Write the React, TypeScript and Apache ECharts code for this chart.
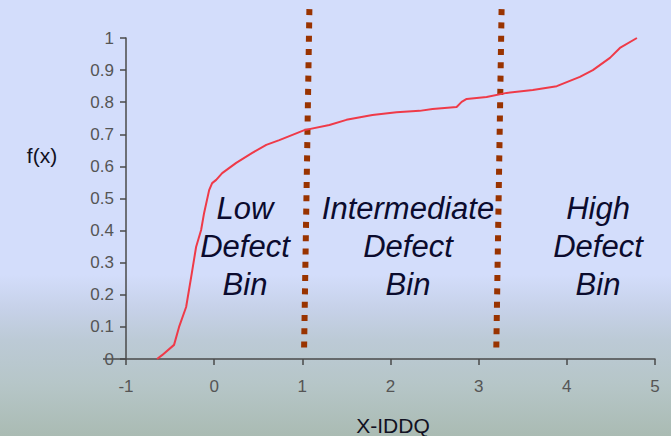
import React, { useEffect, useRef } from "react";
import * as echarts from "echarts";

// Empirical CDF of X-IDDQ: [x, f(x)]
const cdfX = [
  -0.648, -0.591, -0.455, -0.398, -0.318, -0.261, -0.205, -0.148, -0.114, -0.057,
  -0.023, 0.023, 0.091, 0.25, 0.432, 0.591, 0.739, 1.023, 1.307, 1.5,
  1.795, 2.068, 2.33, 2.477, 2.75, 2.807, 2.864, 3.09, 3.318, 3.614,
  3.886, 4.148, 4.295, 4.489, 4.602, 4.795,
];
const cdfY = [
  0, 0.012, 0.044, 0.1, 0.162, 0.255, 0.349, 0.402, 0.455, 0.526,
  0.548, 0.558, 0.579, 0.611, 0.642, 0.667, 0.682, 0.713, 0.729, 0.745,
  0.76, 0.769, 0.773, 0.779, 0.785, 0.801, 0.81, 0.816, 0.829, 0.838,
  0.85, 0.879, 0.9, 0.938, 0.969, 1.0,
];

// Bin boundaries (top and bottom end of each dotted divider)
const lowBoundary = [
  [1.08, 1.09],
  [1.02, 0.034],
];
const highBoundary = [
  [3.26, 1.09],
  [3.2, 0.034],
];

const binLabels = ["Low\nDefect\nBin", "Intermediate\nDefect\nBin", "High\nDefect\nBin"];
const binLabelCenters = [245, 408, 598];

const FONT = "'Liberation Sans', Arial, sans-serif";

export default function App() {
  const ref = useRef<HTMLDivElement>(null);

  useEffect(() => {
    if (!ref.current) return;
    const chart = echarts.init(ref.current, null, { renderer: "svg" });
    const curve = cdfX.map((x, i) => [x, cdfY[i]]);

    const divider = (data: number[][]) => ({
      type: "line",
      data,
      clip: false,
      symbol: "none",
      silent: true,
      lineStyle: { color: "#993300", width: 6, type: [6, 7.3], cap: "butt" },
      z: 3,
    });

    chart.setOption({
      animation: false,
      backgroundColor: "transparent",
      grid: { left: 126, right: 16, top: 38, bottom: 77 },
      xAxis: {
        type: "value",
        min: -1,
        max: 5,
        interval: 1,
        splitLine: { show: false },
        axisLine: { onZero: false, lineStyle: { color: "#4a4a4a", width: 1.5 } },
        axisTick: { length: 6, lineStyle: { color: "#4a4a4a", width: 1.5 } },
        axisLabel: { color: "#555", fontSize: 17, fontFamily: FONT, margin: 19 },
      },
      yAxis: {
        type: "value",
        min: 0,
        max: 1,
        interval: 0.1,
        splitLine: { show: false },
        axisLine: { show: true, onZero: false, lineStyle: { color: "#4a4a4a", width: 1.5 } },
        axisTick: { show: true, length: 6, lineStyle: { color: "#4a4a4a", width: 1.5 } },
        axisLabel: { color: "#555", fontSize: 17, fontFamily: FONT, margin: 12 },
      },
      series: [
        {
          type: "line",
          data: curve,
          symbol: "none",
          lineStyle: { color: "#ef3a48", width: 2 },
          z: 4,
        },
        divider(lowBoundary),
        divider(highBoundary),
      ],
      graphic: [
        {
          type: "line",
          shape: { x1: 103, y1: 359, x2: 126, y2: 359 },
          style: { stroke: "#4a4a4a", lineWidth: 1.5 },
          silent: true,
        },
        ...binLabels.map((t, i) => ({
          type: "text",
          x: binLabelCenters[i],
          y: 246,
          style: {
            text: t,
            fontSize: 31,
            fontStyle: "italic",
            fontFamily: FONT,
            fill: "#0b0b2e",
            align: "center",
            verticalAlign: "middle",
            lineHeight: 38,
          },
          z: 10,
        })),
        {
          type: "text",
          x: 393,
          y: 425,
          style: {
            text: "X-IDDQ",
            fontSize: 21,
            fontFamily: FONT,
            fill: "#111122",
            align: "center",
            verticalAlign: "middle",
          },
        },
        {
          type: "text",
          x: 42,
          y: 155,
          style: {
            text: "f(x)",
            fontSize: 21,
            fontFamily: FONT,
            fill: "#111122",
            align: "center",
            verticalAlign: "middle",
          },
        },
      ],
    });

    return () => chart.dispose();
  }, []);

  return (
    <div
      style={{
        position: "fixed",
        left: 0,
        top: 0,
        width: 671,
        height: 436,
        background:
          "linear-gradient(to bottom, #d3ddfb 0%, #d3ddfb 63%, #c6d1e8 71%, #bccad6 78%, #b6c6c8 88%, #aabbb3 100%)",
      }}
    >
      <div ref={ref} style={{ width: 671, height: 436 }} />
    </div>
  );
}
